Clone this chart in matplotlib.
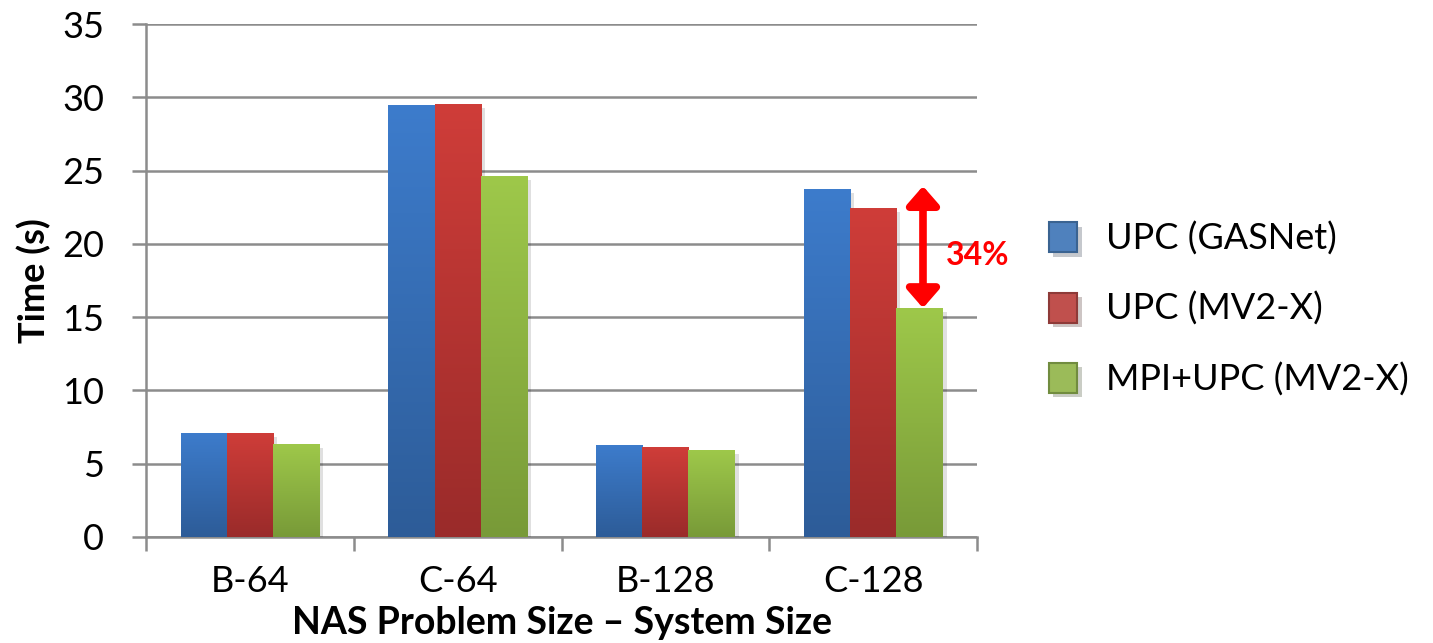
import numpy as np
import matplotlib
matplotlib.use("Agg")
import matplotlib.pyplot as plt
from matplotlib.colors import LinearSegmentedColormap
from matplotlib.patches import Patch
import matplotlib.patheffects as pe

plt.rcParams['font.family'] = ['Lato', 'DejaVu Sans']

categories = ["B-64", "C-64", "B-128", "C-128"]
series_names = ["UPC (GASNet)", "UPC (MV2-X)", "MPI+UPC (MV2-X)"]
upc_gasnet = [7.1, 29.47, 6.28, 23.74]
upc_mv2x = [7.1, 29.54, 6.14, 22.44]
mpi_upc_mv2x = [6.34, 24.62, 5.93, 15.62]
yticks = [0, 5, 10, 15, 20, 25, 30, 35]
gain_label = "34%"

series = [upc_gasnet, upc_mv2x, mpi_upc_mv2x]
# (top colour, bottom colour) of each bar gradient, and legend swatch colour
gradients = [("#3D7CCC", "#2D5C98"), ("#CF3D39", "#9A2B2A"), ("#9EC84A", "#789A38")]
swatches = [("#4F81BD", "#3A6391"), ("#C0504D", "#8E3A38"), ("#9BBB59", "#718C3F")]

FS = 26

fig = plt.figure(figsize=(14.33, 6.43), dpi=100)
ax = fig.add_axes([146 / 1433, 1 - 537 / 643, (977 - 146) / 1433, (537 - 24) / 643])

x = np.arange(len(categories))
bw = 0.667 / 3
shadow = [pe.SimplePatchShadow(offset=(3, -3), shadow_rgbFace="#000000", alpha=0.12), pe.Normal()]
grad = np.linspace(0, 1, 256).reshape(-1, 1)
for i, (vals, (top, bot)) in enumerate(zip(series, gradients)):
    bars = ax.bar(x + (i - 1) * bw, vals, width=bw, color=top, zorder=3,
                  linewidth=0, path_effects=shadow)
    cmap = LinearSegmentedColormap.from_list(f"g{i}", [bot, top])
    for b in bars:
        x0, y0 = b.get_xy()
        im = ax.imshow(grad, cmap=cmap, origin="lower", aspect="auto",
                       extent=[x0, x0 + b.get_width(), y0, y0 + b.get_height()],
                       zorder=4, interpolation="bilinear")
        im.set_clip_path(b)

ax.set_xlim(-0.5, len(categories) - 0.5)
ax.set_ylim(0, 35)
ax.set_yticks(yticks)
ax.set_yticklabels([str(t) for t in yticks], fontsize=FS)
ax.set_xticks(x)
ax.set_xticklabels(categories, fontsize=FS)
ax.set_xticks(np.arange(len(categories) + 1) - 0.5, minor=True)
ax.tick_params(axis="x", which="major", length=0, pad=20)
ax.tick_params(axis="x", which="minor", length=10, width=1.8, color="#8C8C8C", direction="out")
ax.tick_params(axis="y", length=10, width=1.8, color="#8C8C8C", direction="out", pad=20)

ax.grid(axis="y", color="#8C8C8C", linewidth=1.8, zorder=0)
ax.set_axisbelow(True)
for s in ["top", "right"]:
    ax.spines[s].set_visible(False)
for s in ["left", "bottom"]:
    ax.spines[s].set_color("#8C8C8C")
    ax.spines[s].set_linewidth(1.8)

ax.set_ylabel("Time (s)", fontsize=FS, fontweight="bold", labelpad=8)
ax.set_xlabel("NAS Problem Size \u2013 System Size", fontsize=FS + 1, fontweight="bold", labelpad=6)

# improvement arrow between the MV2-X hybrid bar and the GASNet bar on C-128
arrow_x = x[3] + 0.24
ax.annotate("", xy=(arrow_x, mpi_upc_mv2x[3]), xytext=(arrow_x, upc_gasnet[3] + 0.2),
            arrowprops=dict(arrowstyle="<|-|>,head_length=0.55,head_width=0.48",
                            color="#FF0000", lw=5.5, shrinkA=0, shrinkB=0,
                            mutation_scale=20), zorder=6)
ax.text(arrow_x + 0.11, (mpi_upc_mv2x[3] + upc_gasnet[3]) / 2 - 0.5, gain_label,
        color="#FF0000", fontsize=23, fontweight="bold", va="center", ha="left")

handles = [Patch(facecolor=f, edgecolor=e, linewidth=1.5,
                 path_effects=[pe.SimplePatchShadow(offset=(3, -3), alpha=0.25), pe.Normal()])
           for f, e in swatches]
fig.legend(handles, series_names, loc="center left", bbox_to_anchor=(1016 / 1433, 1 - 309 / 643),
           frameon=False, fontsize=FS, handlelength=0.8, handleheight=0.9,
           labelspacing=1.0, handletextpad=0.8)

fig.savefig("out.png", dpi=100)
